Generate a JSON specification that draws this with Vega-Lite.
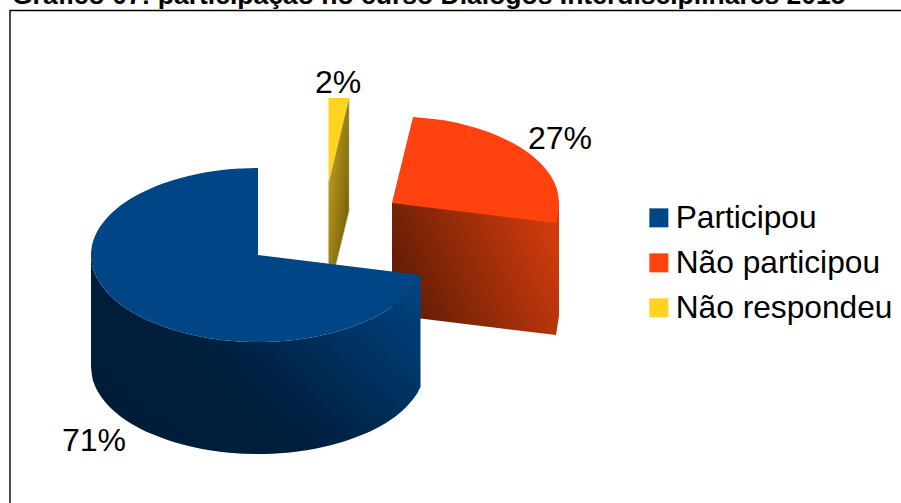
{
  "$schema": "https://vega.github.io/schema/vega-lite/v6.json",
  "width": 901,
  "height": 503,
  "padding": 0,
  "autosize": "none",
  "background": "white",
  "view": {"stroke": null},
  "datasets": {
    "heading": [
      {"caption": "Gráfico 07: participação no curso Diálogos Interdisciplinares 2015", "x": 12, "y": 4}
    ],
    "slices": [
      {"slice": "Participou", "share": 0.71, "labelX": 94, "labelY": 451},
      {"slice": "Não participou", "share": 0.27, "labelX": 560, "labelY": 149},
      {"slice": "Não respondeu", "share": 0.02, "labelX": 338, "labelY": 93}
    ],
    "outlines": [
      {"part": "frame", "i": 0, "x": 10, "y": 510},
      {"part": "frame", "i": 1, "x": 10, "y": 10.5},
      {"part": "frame", "i": 2, "x": 910, "y": 10.5},

      {"part": "yellowSide", "i": 0, "x": 328.5, "y": 183},
      {"part": "yellowSide", "i": 1, "x": 349, "y": 98},
      {"part": "yellowSide", "i": 2, "x": 349, "y": 211},
      {"part": "yellowSide", "i": 3, "x": 328.5, "y": 295},

      {"part": "top", "slice": "Não respondeu", "i": 0, "x": 328.5, "y": 183},
      {"part": "top", "slice": "Não respondeu", "i": 0.3, "x": 328.5, "y": 183},
      {"part": "top", "slice": "Não respondeu", "i": 0.6, "x": 328.5, "y": 183},
      {"part": "top", "slice": "Não respondeu", "i": 1, "x": 328.5, "y": 98},
      {"part": "top", "slice": "Não respondeu", "i": 1.3, "x": 328.5, "y": 98},
      {"part": "top", "slice": "Não respondeu", "i": 1.6, "x": 328.5, "y": 98},
      {"part": "top", "slice": "Não respondeu", "i": 2, "x": 349, "y": 98},
      {"part": "top", "slice": "Não respondeu", "i": 2.3, "x": 349, "y": 98},
      {"part": "top", "slice": "Não respondeu", "i": 2.6, "x": 349, "y": 98},

      {"part": "redSide", "i": 0, "x": 392, "y": 203},
      {"part": "redSide", "i": 1, "x": 559, "y": 203},
      {"part": "redSide", "i": 2, "x": 559, "y": 316},
      {"part": "redSide", "i": 3, "x": 556, "y": 335},
      {"part": "redSide", "i": 4, "x": 392, "y": 315},

      {"part": "top", "slice": "Não participou", "i": 0, "x": 392, "y": 203},
      {"part": "top", "slice": "Não participou", "i": 0.3, "x": 392, "y": 203},
      {"part": "top", "slice": "Não participou", "i": 0.6, "x": 392, "y": 203},
      {"part": "top", "slice": "Não participou", "i": 1, "x": 413, "y": 117},
      {"part": "top", "slice": "Não participou", "i": 1.3, "x": 413, "y": 117},
      {"part": "top", "slice": "Não participou", "i": 1.6, "x": 413, "y": 117},
      {"part": "top", "slice": "Não participou", "i": 2, "x": 421, "y": 117.8},
      {"part": "top", "slice": "Não participou", "i": 3, "x": 449.1, "y": 121.2},
      {"part": "top", "slice": "Não participou", "i": 4, "x": 475.5, "y": 127.7},
      {"part": "top", "slice": "Não participou", "i": 5, "x": 499.3, "y": 136.4},
      {"part": "top", "slice": "Não participou", "i": 6, "x": 519.9, "y": 147.1},
      {"part": "top", "slice": "Não participou", "i": 7, "x": 536.6, "y": 159.5},
      {"part": "top", "slice": "Não participou", "i": 8, "x": 548.9, "y": 173.2},
      {"part": "top", "slice": "Não participou", "i": 9, "x": 556.5, "y": 187.9},
      {"part": "top", "slice": "Não participou", "i": 10, "x": 559, "y": 203},
      {"part": "top", "slice": "Não participou", "i": 11, "x": 558, "y": 213},
      {"part": "top", "slice": "Não participou", "i": 12, "x": 556, "y": 223},
      {"part": "top", "slice": "Não participou", "i": 12.3, "x": 556, "y": 223},
      {"part": "top", "slice": "Não participou", "i": 12.6, "x": 556, "y": 223},

      {"part": "blueSide", "i": 0, "x": 91, "y": 255},
      {"part": "blueSide", "i": 0.3, "x": 91, "y": 255},
      {"part": "blueSide", "i": 0.6, "x": 91, "y": 255},
      {"part": "blueSide", "i": 1, "x": 93.5, "y": 270.1},
      {"part": "blueSide", "i": 2, "x": 101.1, "y": 284.8},
      {"part": "blueSide", "i": 3, "x": 113.4, "y": 298.5},
      {"part": "blueSide", "i": 4, "x": 130.1, "y": 310.9},
      {"part": "blueSide", "i": 5, "x": 150.7, "y": 321.6},
      {"part": "blueSide", "i": 6, "x": 174.5, "y": 330.3},
      {"part": "blueSide", "i": 7, "x": 200.9, "y": 336.8},
      {"part": "blueSide", "i": 8, "x": 229, "y": 340.7},
      {"part": "blueSide", "i": 9, "x": 258, "y": 342},
      {"part": "blueSide", "i": 10, "x": 287, "y": 340.7},
      {"part": "blueSide", "i": 11, "x": 315.1, "y": 336.8},
      {"part": "blueSide", "i": 12, "x": 341.5, "y": 330.3},
      {"part": "blueSide", "i": 13, "x": 365.3, "y": 321.6},
      {"part": "blueSide", "i": 14, "x": 385.9, "y": 310.9},
      {"part": "blueSide", "i": 15, "x": 402.6, "y": 298.5},
      {"part": "blueSide", "i": 16, "x": 414.9, "y": 284.8},
      {"part": "blueSide", "i": 17, "x": 420.5, "y": 275},
      {"part": "blueSide", "i": 17.3, "x": 420.5, "y": 275},
      {"part": "blueSide", "i": 17.6, "x": 420.5, "y": 275},
      {"part": "blueSide", "i": 18, "x": 420.5, "y": 387},
      {"part": "blueSide", "i": 18.3, "x": 420.5, "y": 387},
      {"part": "blueSide", "i": 18.6, "x": 420.5, "y": 387},
      {"part": "blueSide", "i": 19, "x": 414.9, "y": 396.8},
      {"part": "blueSide", "i": 20, "x": 402.6, "y": 410.5},
      {"part": "blueSide", "i": 21, "x": 385.9, "y": 422.9},
      {"part": "blueSide", "i": 22, "x": 365.3, "y": 433.6},
      {"part": "blueSide", "i": 23, "x": 341.5, "y": 442.3},
      {"part": "blueSide", "i": 24, "x": 315.1, "y": 448.8},
      {"part": "blueSide", "i": 25, "x": 287, "y": 452.7},
      {"part": "blueSide", "i": 26, "x": 258, "y": 454},
      {"part": "blueSide", "i": 27, "x": 229, "y": 452.7},
      {"part": "blueSide", "i": 28, "x": 200.9, "y": 448.8},
      {"part": "blueSide", "i": 29, "x": 174.5, "y": 442.3},
      {"part": "blueSide", "i": 30, "x": 150.7, "y": 433.6},
      {"part": "blueSide", "i": 31, "x": 130.1, "y": 422.9},
      {"part": "blueSide", "i": 32, "x": 113.4, "y": 410.5},
      {"part": "blueSide", "i": 33, "x": 101.1, "y": 396.8},
      {"part": "blueSide", "i": 34, "x": 93.5, "y": 382.1},
      {"part": "blueSide", "i": 35, "x": 91, "y": 367},
      {"part": "blueSide", "i": 35.3, "x": 91, "y": 367},
      {"part": "blueSide", "i": 35.6, "x": 91, "y": 367},

      {"part": "top", "slice": "Participou", "i": 0, "x": 258, "y": 255},
      {"part": "top", "slice": "Participou", "i": 0.3, "x": 258, "y": 255},
      {"part": "top", "slice": "Participou", "i": 0.6, "x": 258, "y": 255},
      {"part": "top", "slice": "Participou", "i": 1, "x": 258, "y": 168},
      {"part": "top", "slice": "Participou", "i": 1.3, "x": 258, "y": 168},
      {"part": "top", "slice": "Participou", "i": 1.6, "x": 258, "y": 168},
      {"part": "top", "slice": "Participou", "i": 2, "x": 229, "y": 169.3},
      {"part": "top", "slice": "Participou", "i": 3, "x": 200.9, "y": 173.2},
      {"part": "top", "slice": "Participou", "i": 4, "x": 174.5, "y": 179.7},
      {"part": "top", "slice": "Participou", "i": 5, "x": 150.7, "y": 188.4},
      {"part": "top", "slice": "Participou", "i": 6, "x": 130.1, "y": 199.1},
      {"part": "top", "slice": "Participou", "i": 7, "x": 113.4, "y": 211.5},
      {"part": "top", "slice": "Participou", "i": 8, "x": 101.1, "y": 225.2},
      {"part": "top", "slice": "Participou", "i": 9, "x": 93.5, "y": 239.9},
      {"part": "top", "slice": "Participou", "i": 10, "x": 91, "y": 255},
      {"part": "top", "slice": "Participou", "i": 11, "x": 93.5, "y": 270.1},
      {"part": "top", "slice": "Participou", "i": 12, "x": 101.1, "y": 284.8},
      {"part": "top", "slice": "Participou", "i": 13, "x": 113.4, "y": 298.5},
      {"part": "top", "slice": "Participou", "i": 14, "x": 130.1, "y": 310.9},
      {"part": "top", "slice": "Participou", "i": 15, "x": 150.7, "y": 321.6},
      {"part": "top", "slice": "Participou", "i": 16, "x": 174.5, "y": 330.3},
      {"part": "top", "slice": "Participou", "i": 17, "x": 200.9, "y": 336.8},
      {"part": "top", "slice": "Participou", "i": 18, "x": 229, "y": 340.7},
      {"part": "top", "slice": "Participou", "i": 19, "x": 258, "y": 342},
      {"part": "top", "slice": "Participou", "i": 20, "x": 287, "y": 340.7},
      {"part": "top", "slice": "Participou", "i": 21, "x": 315.1, "y": 336.8},
      {"part": "top", "slice": "Participou", "i": 22, "x": 341.5, "y": 330.3},
      {"part": "top", "slice": "Participou", "i": 23, "x": 365.3, "y": 321.6},
      {"part": "top", "slice": "Participou", "i": 24, "x": 385.9, "y": 310.9},
      {"part": "top", "slice": "Participou", "i": 25, "x": 402.6, "y": 298.5},
      {"part": "top", "slice": "Participou", "i": 26, "x": 414.9, "y": 284.8},
      {"part": "top", "slice": "Participou", "i": 27, "x": 420.5, "y": 275},
      {"part": "top", "slice": "Participou", "i": 27.3, "x": 420.5, "y": 275},
      {"part": "top", "slice": "Participou", "i": 27.6, "x": 420.5, "y": 275}
    ]
  },
  "data": {"name": "outlines"},
  "encoding": {
    "x": {"field": "x", "type": "quantitative", "axis": null, "scale": {"domain": [0, 901], "nice": false, "zero": false}},
    "y": {"field": "y", "type": "quantitative", "axis": null, "scale": {"domain": [503, 0], "nice": false, "zero": false}},
    "order": {"field": "i", "type": "quantitative"}
  },
  "layer": [
    {
      "transform": [{"filter": "datum.part === 'frame'"}],
      "mark": {"type": "line", "stroke": "#000000", "strokeWidth": 1.4, "clip": true}
    },
    {
      "transform": [{"filter": "datum.part === 'yellowSide'"}],
      "mark": {
        "type": "line",
        "strokeWidth": 0.6,
        "stroke": "#b8b08a",
        "fill": {
          "gradient": "linear", "x1": 0, "y1": 0, "x2": 1, "y2": 1,
          "stops": [
            {"offset": 0, "color": "#d3ae22"},
            {"offset": 1, "color": "#5e4b05"}
          ]
        }
      }
    },
    {
      "transform": [{"filter": "datum.part === 'redSide'"}],
      "mark": {
        "type": "line",
        "strokeWidth": 0,
        "fill": {
          "gradient": "linear", "x1": 0, "y1": 0.6, "x2": 1, "y2": 0.25,
          "stops": [
            {"offset": 0, "color": "#5f1c05"},
            {"offset": 1, "color": "#d23c0d"}
          ]
        }
      }
    },
    {
      "transform": [{"filter": "datum.part === 'blueSide'"}],
      "mark": {
        "type": "line",
        "strokeWidth": 0,
        "interpolate": "cardinal",
        "tension": 0,
        "fill": {
          "gradient": "linear", "x1": 0.1, "y1": 0.75, "x2": 1, "y2": 0.15,
          "stops": [
            {"offset": 0, "color": "#001c38"},
            {"offset": 0.35, "color": "#001f3e"},
            {"offset": 1, "color": "#004483"}
          ]
        }
      }
    },
    {
      "transform": [{"filter": "datum.part === 'top'"}],
      "mark": {"type": "line", "strokeWidth": 0, "interpolate": "cardinal", "tension": 0},
      "encoding": {
        "fill": {
          "field": "slice",
          "type": "nominal",
          "scale": {
            "domain": ["Participou", "Não participou", "Não respondeu"],
            "range": ["#004586", "#ff420e", "#ffd320"]
          },
          "legend": {
            "title": null,
            "orient": "none",
            "legendX": 643,
            "legendY": 202,
            "symbolType": "square",
            "symbolSize": 361,
            "symbolStrokeWidth": 0,
            "labelFont": "Liberation Sans",
            "labelFontSize": 31.7,
            "labelColor": "#000000",
            "labelOffset": 1,
            "labelLimit": 400,
            "rowPadding": 12,
            "symbolOpacity": 1
          }
        }
      }
    },
    {
      "data": {"name": "slices"},
      "mark": {"type": "text", "font": "Liberation Sans", "fontSize": 32, "color": "#000000", "align": "center", "baseline": "alphabetic"},
      "encoding": {
        "x": {"field": "labelX", "type": "quantitative"},
        "y": {"field": "labelY", "type": "quantitative"},
        "text": {"field": "share", "type": "quantitative", "format": ".0%"},
        "order": {"value": null}
      }
    },
    {
      "data": {"name": "heading"},
      "mark": {"type": "text", "font": "Liberation Sans", "fontSize": 26.5, "fontWeight": "bold", "color": "#000000", "align": "left", "baseline": "alphabetic"},
      "encoding": {
        "text": {"field": "caption", "type": "nominal"},
        "order": {"value": null}
      }
    }
  ]
}
